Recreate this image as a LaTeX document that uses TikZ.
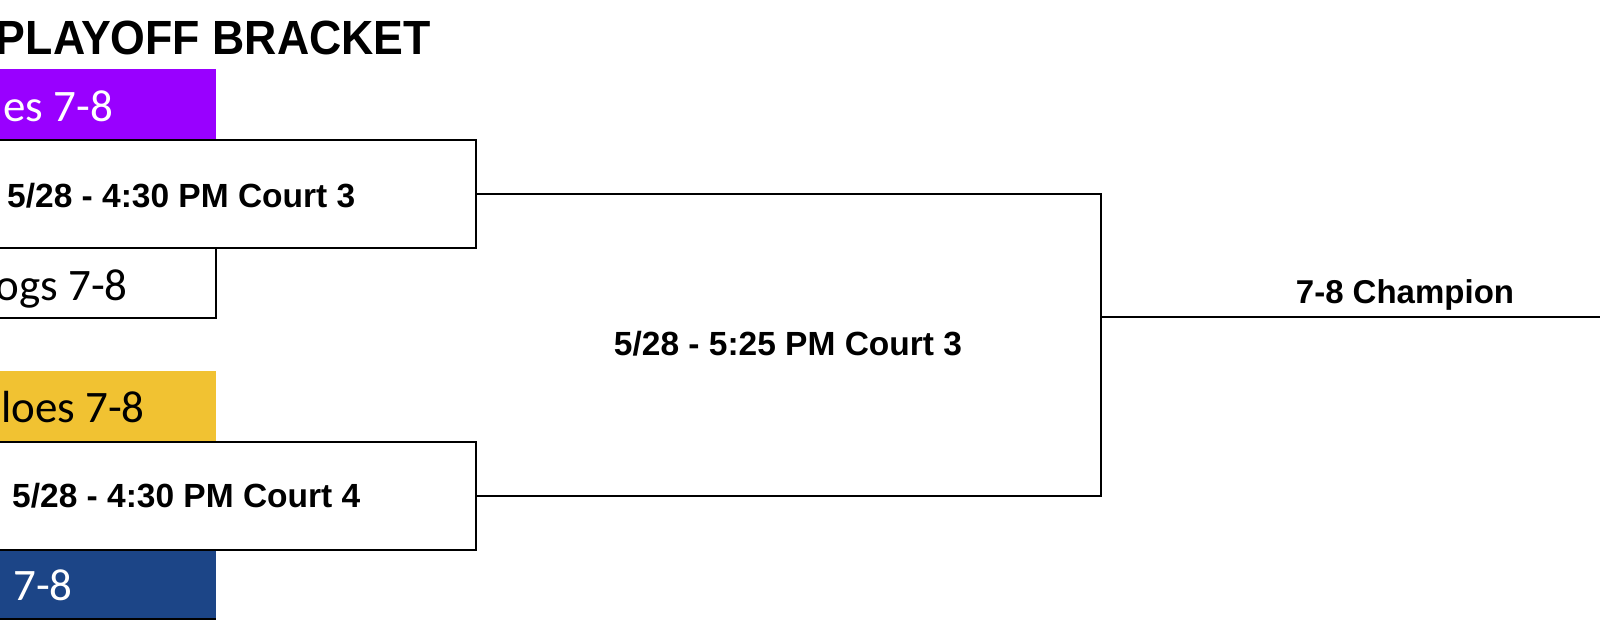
\documentclass[tikz,border=0pt]{standalone}
\usepackage{fontspec}
\setmainfont{Liberation Sans}
\newfontfamily\calib{Carlito}
\definecolor{tpurple}{HTML}{9900FF}
\definecolor{tyellow}{HTML}{F1C232}
\definecolor{tblue}{HTML}{1C4587}
\tikzset{
  matchbox/.style={draw=black, line width=2pt, fill=white, rectangle, minimum width=486pt, minimum height=108pt, inner sep=0pt},
  teambox/.style={rectangle, minimum width=226pt, minimum height=70pt, inner sep=0pt},
  teamtext/.style={font=\calib\fontsize{45}{54}\selectfont, anchor=base east, inner sep=0pt},
  gametext/.style={font=\bfseries\fontsize{33.5}{40}\selectfont, inner sep=0pt},
  wire/.style={draw=black, line width=2pt},
}
\begin{document}
\begin{tikzpicture}[x=1pt,y=-1pt]
\useasboundingbox (0,0) rectangle (1600,623);
\clip (0,0) rectangle (1600,623);
\fill[white] (0,0) rectangle (1600,623);
% title
\node[font=\bfseries\fontsize{48}{56}\selectfont, anchor=base east, inner sep=0pt, xscale=0.93] (title) at (431,55) {PLAYOFF BRACKET};
% team boxes
\node[teambox, fill=tpurple] (t1) at (103,104) {};
\node[teambox, fill=white, draw=black, line width=2pt] (t2) at (103,283) {};
\node[teambox, fill=tyellow] (t3) at (103,406) {};
\node[teambox, fill=tblue] (t4) at (103,584) {};
\draw[wire] (t4.south west) -- (t4.south east);
% match boxes
\node[matchbox] (m1) at (233,194) {};
\node[matchbox] (m2) at (233,495.5) {};
% team names
\node[teamtext, text=white] (n1) at (113,122) {es 7-8};
\node[teamtext, text=black] (n2) at (128,300) {ogs 7-8};
\node[teamtext, text=black] (n3) at (145,422) {loes 7-8};
\node[teamtext, text=white] (n4) at (73,600) {7-8};
% game labels
\node[gametext, anchor=base west] (g1) at (7,207) {5/28 - 4:30 PM Court 3};
\node[gametext, anchor=base west] (g2) at (12,507) {5/28 - 4:30 PM Court 4};
% bracket
\coordinate (j) at (1101,317);
\coordinate (champ) at (1610,317);
\draw[wire] (m1.east) -| (j);
\draw[wire] (m2.east) -| (j);
\draw[wire] (j) -- (champ);
\node[gametext, anchor=base] (g3) at (788,355) {5/28 - 5:25 PM Court 3};
\node[gametext, font=\bfseries\fontsize{33}{40}\selectfont, anchor=base] (g4) at (1405,303) {7-8 Champion};
\end{tikzpicture}
\end{document}
